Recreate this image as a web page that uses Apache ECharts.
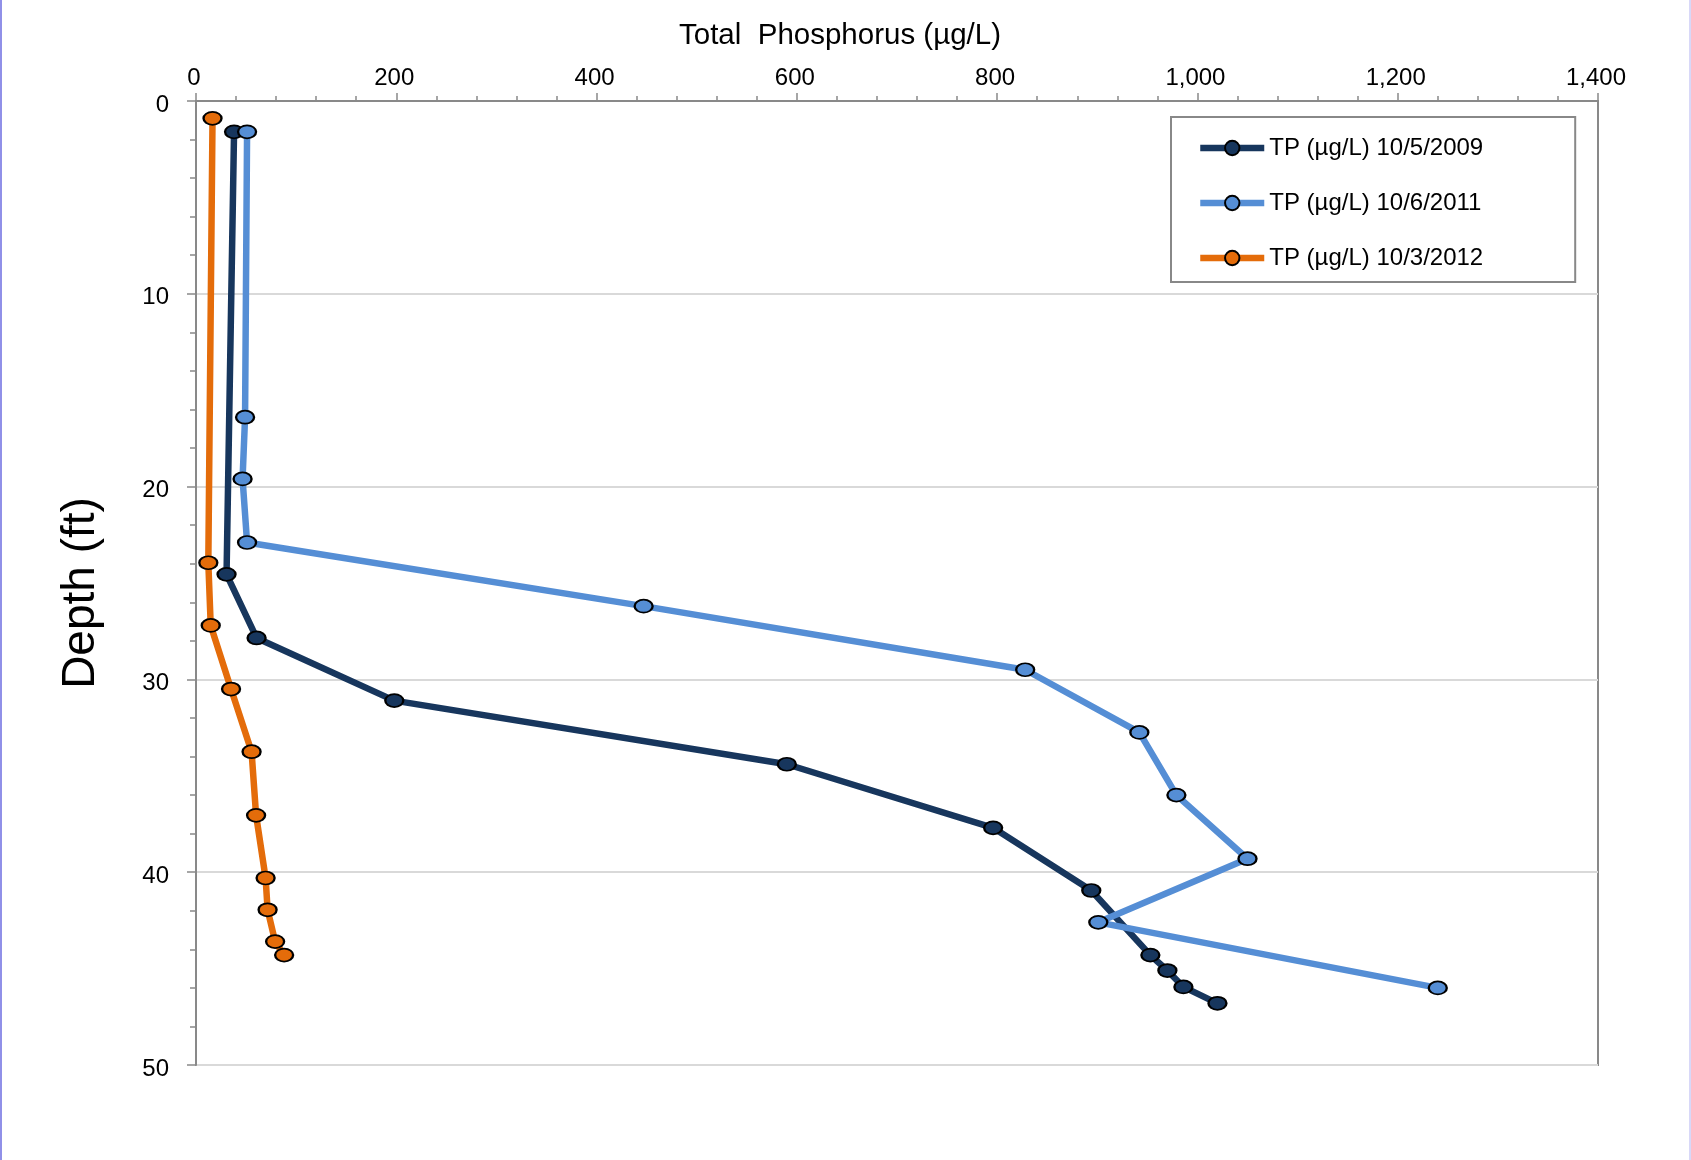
<!DOCTYPE html>
<html>
<head>
<meta charset="utf-8">
<script src="https://cdn.jsdelivr.net/npm/echarts@6/dist/echarts.min.js"></script>
<style>
  html, body { margin: 0; padding: 0; background: #fff; }
  #wrap { position: relative; width: 1691px; height: 1160px; }
  #chart { position: absolute; left: 0; top: 0; width: 1691px; height: 1160px; }
  #edgeL { position: absolute; left: 0; top: 0; width: 2px; height: 1160px; background: #9090e8; }
  #edgeR { position: absolute; right: 0; top: 0; width: 2px; height: 1160px; background: #d8d8f8; }
</style>
</head>
<body>
<div id="wrap">
  <div id="chart"></div>
  <div id="edgeL"></div>
  <div id="edgeR"></div>
</div>
<script>
// ---- data (TP in µg/L, depth in ft) ----
const seriesNames = ['TP (µg/L) 10/5/2009', 'TP (µg/L) 10/6/2011', 'TP (µg/L) 10/3/2012'];

const depth2009 = [1.6, 24.55, 27.85, 31.1, 34.4, 37.7, 40.95, 44.3, 45.1, 45.95, 46.8];
const tp2009    = [38, 30.5, 60.5, 198, 590, 796, 894, 953, 970, 986, 1020];

const depth2011 = [1.6, 16.4, 19.6, 22.9, 26.2, 29.5, 32.75, 36.0, 39.3, 42.6, 46.0];
const tp2011    = [51, 49, 46.5, 51, 447, 828, 942, 979, 1050, 901, 1240];

const depth2012 = [0.9, 23.95, 27.2, 30.5, 33.75, 37.05, 40.3, 41.95, 43.6, 44.3];
const tp2012    = [16.5, 12.3, 14.7, 35, 55.5, 60, 69.5, 71.5, 79, 88];

const xTickValues = [0, 200, 400, 600, 800, 1000, 1200, 1400];
const yTickValues = [0, 10, 20, 30, 40, 50];

const xTitle = 'Total  Phosphorus (µg/L)';
const yTitle = 'Depth (ft)';

const colors = ['#17365D', '#558ED5', '#E46C0A'];

function pairs(xs, ys) { return xs.map((x, i) => [x, ys[i]]); }
function fmt(v) { return String(v).replace(/\B(?=(\d{3})+(?!\d))/g, ','); }

const FONT = 'Liberation Sans, Arial, Helvetica, sans-serif';
const AXIS_GRAY = '#898989';
const LINE_W = 6.5;

const chart = echarts.init(document.getElementById('chart'), null, { renderer: 'canvas' });

function mkSeries(name, data, color) {
  return {
    name: name,
    type: 'line',
    data: data,
    symbol: 'circle',
    symbolSize: [18, 13],
    showSymbol: true,
    lineStyle: { color: color, width: LINE_W },
    itemStyle: { color: color, borderColor: '#000', borderWidth: 2 },
    emphasis: { disabled: true },
    z: 3
  };
}

const option = {
  animation: false,
  backgroundColor: '#ffffff',
  textStyle: { fontFamily: FONT },
  grid: {
    left: 196, top: 101, width: 1402, height: 964,
    show: true, borderColor: AXIS_GRAY, borderWidth: 2, backgroundColor: 'transparent',
    containLabel: false, outerBoundsMode: 'none'
  },
  legend: {
    orient: 'vertical',
    left: 1171, top: 117,
    padding: [18, 92, 11, 26],
    borderColor: '#888888', borderWidth: 2,
    backgroundColor: '#ffffff',
    itemWidth: 64, itemHeight: 18, itemGap: 29,
    textStyle: { fontSize: 24, color: '#000', fontFamily: FONT, lineHeight: 26 },
    lineStyle: { width: LINE_W },
    itemStyle: { borderColor: '#000', borderWidth: 2 },
    data: seriesNames,
    selectedMode: false
  },
  xAxis: {
    type: 'value',
    position: 'top',
    min: 0, max: 1400, interval: 200,
    axisLine: { show: true, lineStyle: { color: AXIS_GRAY, width: 2 } },
    axisTick: { show: true, inside: false, length: 8, lineStyle: { color: AXIS_GRAY, width: 1.5 } },
    minorTick: { show: true, splitNumber: 5, length: 5, lineStyle: { color: AXIS_GRAY, width: 1.5 } },
    splitLine: { show: false },
    minorSplitLine: { show: false },
    axisLabel: {
      show: true, margin: 11, fontSize: 24, color: '#000', fontFamily: FONT,
      padding: [0, 4, 0, 0],
      formatter: function (v) { return xTickValues.indexOf(v) >= 0 ? fmt(v) : ''; }
    }
  },
  yAxis: {
    type: 'value',
    inverse: true,
    min: 0, max: 50, interval: 10,
    axisLine: { show: true, lineStyle: { color: AXIS_GRAY, width: 2 } },
    axisTick: { show: true, inside: false, length: 9, lineStyle: { color: AXIS_GRAY, width: 1.5 } },
    minorTick: { show: true, splitNumber: 5, length: 6, lineStyle: { color: AXIS_GRAY, width: 1.5 } },
    splitLine: { show: true, lineStyle: { color: '#d9d9d9', width: 2 } },
    minorSplitLine: { show: false },
    axisLabel: {
      show: true, margin: 27, fontSize: 24, color: '#000', fontFamily: FONT,
      verticalAlign: 'top', lineHeight: 8,
      formatter: function (v) { return yTickValues.indexOf(v) >= 0 ? String(v) : ''; }
    }
  },
  graphic: [
    {
      type: 'text', x: 840, y: 36, z: 10,
      style: { text: xTitle, font: '29.5px ' + FONT, fill: '#000', textAlign: 'center', textVerticalAlign: 'middle' }
    },
    {
      type: 'text', x: 81, y: 593, rotation: Math.PI / 2, z: 10,
      style: { text: yTitle, font: '46px ' + FONT, fill: '#000', textAlign: 'center', textVerticalAlign: 'middle' }
    }
  ],
  series: [
    mkSeries(seriesNames[0], pairs(tp2009, depth2009), colors[0]),
    mkSeries(seriesNames[1], pairs(tp2011, depth2011), colors[1]),
    mkSeries(seriesNames[2], pairs(tp2012, depth2012), colors[2])
  ]
};

chart.setOption(option);
</script>
</body>
</html>
